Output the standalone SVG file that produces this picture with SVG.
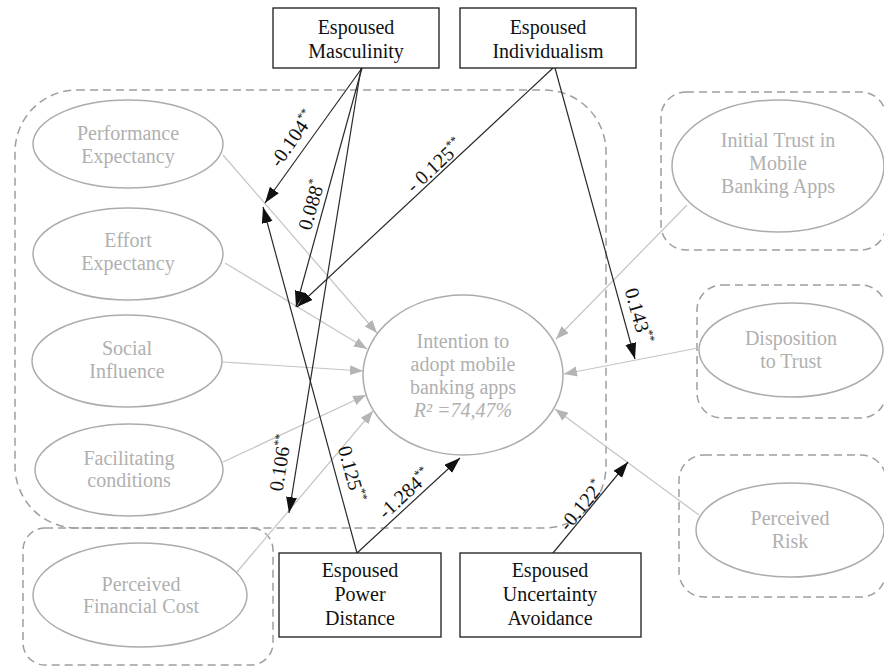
<svg xmlns="http://www.w3.org/2000/svg" width="884" height="666" viewBox="0 0 884 666" font-family="'Liberation Serif', 'DejaVu Serif', serif">
<defs>
<style>
text{font-family:'Liberation Serif','DejaVu Serif',serif}
.grp{fill:none;stroke:#9e9e9e;stroke-width:1.5;stroke-dasharray:8 5}
.ell{fill:#fff;stroke:#acacac;stroke-width:1.5}
.lt{font-size:20px;fill:#b0b0b0;text-anchor:middle}
.box{fill:#fff;stroke:#1a1a1a;stroke-width:1.3}
.bt{font-size:20px;fill:#111;text-anchor:middle}
.gc{fill:none;stroke:#c4c4c4;stroke-width:1.2;marker-end:url(#ga)}
.bc{fill:none;stroke:#2a2a2a;stroke-width:1.2;marker-end:url(#ba)}
.lab{font-size:20px;fill:#111;text-anchor:middle}
.sup{font-size:12px}
</style>
<marker id="ba" markerUnits="userSpaceOnUse" markerWidth="17" markerHeight="12" refX="16" refY="5.5" orient="auto">
<path d="M0,0 L16,5.5 L0,11 z" fill="#111"/>
</marker>
<marker id="ga" markerUnits="userSpaceOnUse" markerWidth="14" markerHeight="11" refX="13" refY="5" orient="auto">
<path d="M0,0 L13,5 L0,10 z" fill="#b4b4b4"/>
</marker>
</defs>
<rect width="884" height="666" fill="#fff"/>

<g id="groups">
<rect class="grp" x="15" y="90" width="591" height="438" rx="62" ry="62"/>
<rect class="grp" x="23" y="528" width="250" height="137" rx="22" ry="22"/>
<rect class="grp" x="661" y="92" width="225" height="158" rx="25" ry="25"/>
<rect class="grp" x="697" y="285" width="189" height="133" rx="25" ry="25"/>
<rect class="grp" x="679" y="455" width="207" height="142" rx="25" ry="25"/>
</g>

<g id="connectors">
<path class="gc" d="M223,155 L377,333"/>
<path class="gc" d="M225,263 L367,349"/>
<path class="gc" d="M223,362 L363,371"/>
<path class="gc" d="M223,462 L366,395"/>
<path class="gc" d="M237,572 L373,411"/>
<path class="gc" d="M687,205 L556,339"/>
<path class="gc" d="M698,348 L564,374"/>
<path class="gc" d="M699,515 L555,409"/>
<path class="bc" d="M362,68 L265,203"/>
<path class="bc" d="M362,68 L296,307"/>
<path class="bc" d="M361,68 L289,513"/>
<path class="bc" d="M553,68 L297,307"/>
<path class="bc" d="M555,68 L635,359"/>
<path class="bc" d="M357,553 L263,207"/>
<path class="bc" d="M357,553 L460,458"/>
<path class="bc" d="M553,553 L628,462"/>
<text class="lab" transform="translate(293,139) rotate(-55)" y="6">-0.104<tspan class="sup" dy="-8">**</tspan></text>
<text class="lab" transform="translate(312,205) rotate(-74)" y="6">0.088<tspan class="sup" dy="-8">*</tspan></text>
<text class="lab" transform="translate(435,166) rotate(-42.7)" y="6">- 0.125<tspan class="sup" dy="-8">**</tspan></text>
<text class="lab" transform="translate(638,316) rotate(74)" y="6">0.143<tspan class="sup" dy="-8">**</tspan></text>
<text class="lab" transform="translate(281,463) rotate(-81)" y="6">0.106<tspan class="sup" dy="-8">**</tspan></text>
<text class="lab" transform="translate(351,474) rotate(75)" y="6">0.125<tspan class="sup" dy="-8">**</tspan></text>
<text class="lab" transform="translate(405,494) rotate(-42.7)" y="6">-1.284<tspan class="sup" dy="-8">**</tspan></text>
<text class="lab" transform="translate(582,506) rotate(-50.5)" y="6">-0.122<tspan class="sup" dy="-8">*</tspan></text>
</g>

<g id="pe"><ellipse class="ell" cx="128" cy="144" rx="95" ry="44"/><text class="lt" x="128" y="140">Performance</text><text class="lt" x="128" y="163">Expectancy</text></g>
<g id="ee"><ellipse class="ell" cx="128" cy="254" rx="95" ry="46"/><text class="lt" x="128" y="247">Effort</text><text class="lt" x="128" y="270">Expectancy</text></g>
<g id="si"><ellipse class="ell" cx="127" cy="361" rx="95" ry="46"/><text class="lt" x="127" y="355">Social</text><text class="lt" x="127" y="378">Influence</text></g>
<g id="fc"><ellipse class="ell" cx="129" cy="470" rx="94" ry="46"/><text class="lt" x="129" y="465">Facilitating</text><text class="lt" x="129" y="487">conditions</text></g>
<g id="pfc"><ellipse class="ell" cx="140" cy="595" rx="107" ry="52"/><text class="lt" x="141" y="591">Perceived</text><text class="lt" x="141" y="613">Financial Cost</text></g>
<g id="intention"><ellipse class="ell" cx="463" cy="375" rx="100" ry="80"/><text class="lt" x="463" y="348">Intention to</text><text class="lt" x="463" y="371">adopt mobile</text><text class="lt" x="463" y="394">banking apps</text><text class="lt" x="463" y="417" font-style="italic">R² =74,47%</text></g>
<g id="trust"><ellipse class="ell" cx="778" cy="166" rx="106" ry="66"/><text class="lt" x="778" y="147">Initial Trust in</text><text class="lt" x="778" y="170">Mobile</text><text class="lt" x="778" y="193">Banking Apps</text></g>
<g id="disposition"><ellipse class="ell" cx="791" cy="350" rx="92" ry="47"/><text class="lt" x="791" y="345">Disposition</text><text class="lt" x="791" y="368">to Trust</text></g>
<g id="risk"><ellipse class="ell" cx="790" cy="530" rx="94" ry="47"/><text class="lt" x="790" y="525">Perceived</text><text class="lt" x="790" y="548">Risk</text></g>

<g id="masculinity"><rect class="box" x="273" y="8" width="166" height="60"/><text class="bt" x="356" y="34">Espoused</text><text class="bt" x="356" y="58">Masculinity</text></g>
<g id="individualism"><rect class="box" x="460" y="8" width="176" height="60"/><text class="bt" x="548" y="34">Espoused</text><text class="bt" x="548" y="58">Individualism</text></g>
<g id="powerdistance"><rect class="box" x="279" y="553" width="162" height="84"/><text class="bt" x="360" y="577">Espoused</text><text class="bt" x="360" y="601">Power</text><text class="bt" x="360" y="625">Distance</text></g>
<g id="uncertainty"><rect class="box" x="460" y="553" width="181" height="84"/><text class="bt" x="550" y="577">Espoused</text><text class="bt" x="550" y="601">Uncertainty</text><text class="bt" x="550" y="625">Avoidance</text></g>
</svg>
